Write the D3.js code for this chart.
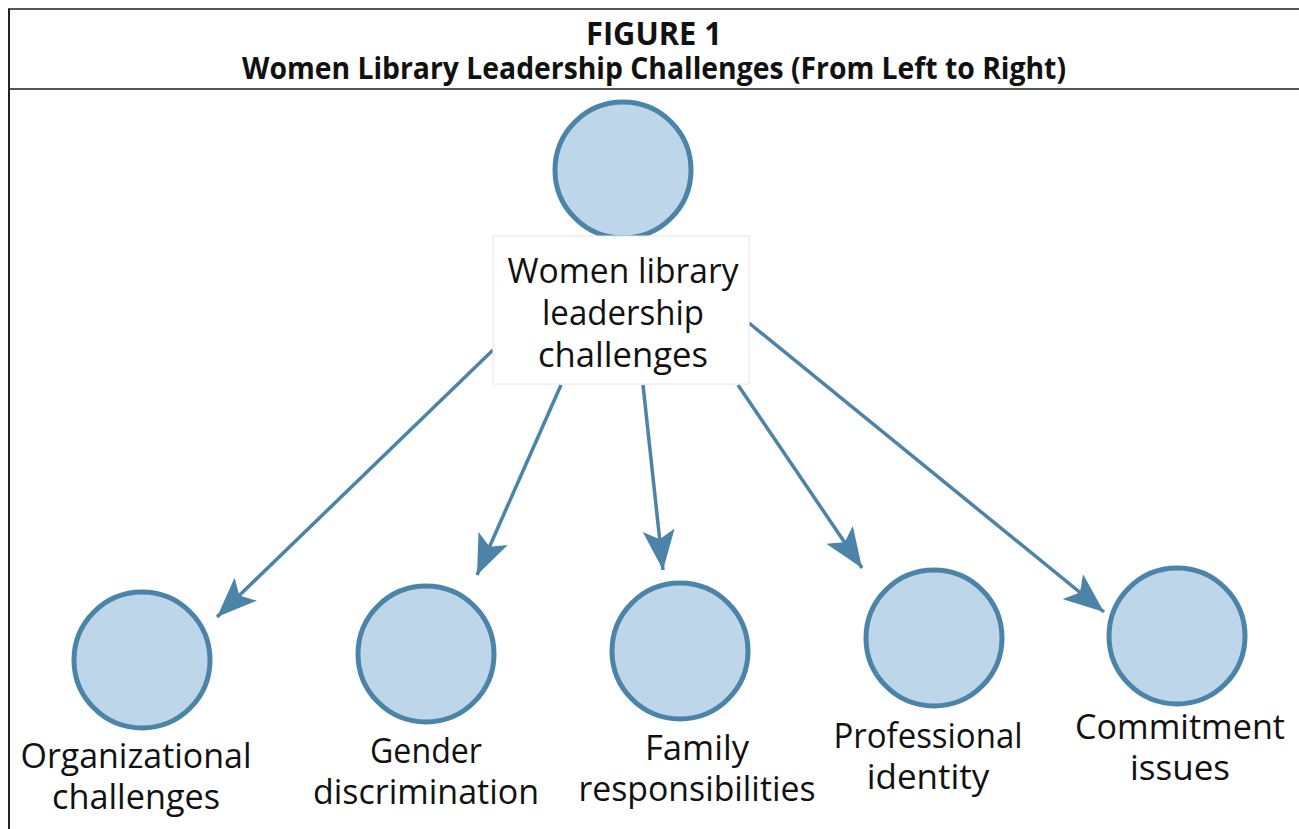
<!DOCTYPE html>
<head>
    <meta charset="utf-8">
    <style>
        body { margin: 0; background: #fff; }
        text { font-family: "Open Sans", "Noto Sans", sans-serif; fill: #111; }
        .title { font-weight: 700; }
    </style>
</head>
<body>
    <svg id="chart" width="1299" height="829"></svg>
    <script src="https://cdn.jsdelivr.net/npm/d3@7"></script>
    <script>
        // figure text
        var figureNo = "FIGURE 1"
        var figureTitle = "Women Library Leadership Challenges (From Left to Right)"
        var rootLabel = ["Women library", "leadership", "challenges"]
        var challenges = [
            ["Organizational", "challenges"],
            ["Gender", "discrimination"],
            ["Family", "responsibilities"],
            ["Professional", "identity"],
            ["Commitment", "issues"]
        ]

        // layout (kept apart from the data)
        var rootPos = { cx: 623, cy: 170, box: [493, 236, 256, 148] }
        var childPos = [
            { cx: 142, cy: 660, lx: 136, ly: 768, from: [493, 350], to: [217, 617] },
            { cx: 426, cy: 654, lx: 426, ly: 763, from: [561, 385], to: [477, 575] },
            { cx: 680, cy: 651, lx: 697, ly: 760, from: [643, 385], to: [663, 570] },
            { cx: 934, cy: 638, lx: 928, ly: 748, from: [738, 385], to: [862, 568] },
            { cx: 1177, cy: 636, lx: 1180, ly: 739, from: [749, 323], to: [1104, 612] }
        ]
        var R = 68, blue = "#4b84a8", fill = "#bed6ea"

        var svg = d3.select("#chart")

        // frame lines
        svg.append("line").attr("x1", 8).attr("x2", 1299).attr("y1", 9).attr("y2", 9)
            .attr("stroke", "#555").attr("stroke-width", 2)
        svg.append("line").attr("x1", 8).attr("x2", 1299).attr("y1", 89).attr("y2", 89)
            .attr("stroke", "#555").attr("stroke-width", 2)
        svg.append("line").attr("x1", 9).attr("x2", 9).attr("y1", 9).attr("y2", 829)
            .attr("stroke", "#222").attr("stroke-width", 2)

        function fit(sel, w) {
            // squeeze text to the width it has in the figure
            var len = sel.node().getComputedTextLength()
            if (len > w) sel.attr("textLength", w).attr("lengthAdjust", "spacingAndGlyphs")
        }

        fit(svg.append("text").attr("class", "title").attr("x", 654).attr("y", 45)
            .attr("text-anchor", "middle").style("font-size", "32px").text(figureNo), 136)
        fit(svg.append("text").attr("class", "title").attr("x", 654).attr("y", 79)
            .attr("text-anchor", "middle").style("font-size", "30px").text(figureTitle), 824)

        // arrowhead
        var head = svg.append("defs").append("marker")
            .attr("id", "head").attr("viewBox", "-40 -17 42 34")
            .attr("markerUnits", "userSpaceOnUse")
            .attr("markerWidth", 42).attr("markerHeight", 34)
            .attr("refX", 0).attr("refY", 0).attr("orient", "auto")
        head.append("path").attr("d", "M0,0 L-40,-16 L-31,0 L-40,16 Z").attr("fill", blue)

        svg.selectAll(".link").data(childPos).join("line")
            .attr("class", "link")
            .attr("x1", d => d.from[0]).attr("y1", d => d.from[1])
            .attr("x2", d => d.to[0]).attr("y2", d => d.to[1])
            .attr("stroke", blue).attr("stroke-width", 3.5)
            .attr("marker-end", "url(#head)")

        // root node
        svg.append("circle").attr("cx", rootPos.cx).attr("cy", rootPos.cy).attr("r", R)
            .attr("fill", fill).attr("stroke", blue).attr("stroke-width", 5)
        svg.append("rect").attr("x", rootPos.box[0]).attr("y", rootPos.box[1])
            .attr("width", rootPos.box[2]).attr("height", rootPos.box[3])
            .attr("fill", "#fff").attr("stroke", "#e6e6e6")
        svg.append("g").selectAll("text").data(rootLabel).join("text")
            .attr("x", rootPos.cx).attr("y", (d, i) => 283 + i * 42)
            .attr("text-anchor", "middle").style("font-size", "35px").text(d => d)
            .each(function (d, i) { fit(d3.select(this), [231, 162, 170][i]) })

        // child nodes
        var nodes = svg.selectAll(".node").data(challenges).join("g").attr("class", "node")
        nodes.append("circle")
            .attr("cx", (d, i) => childPos[i].cx).attr("cy", (d, i) => childPos[i].cy).attr("r", R)
            .attr("fill", fill).attr("stroke", blue).attr("stroke-width", 5)
        var widths = [[231, 168], [112, 226], [104, 237], [189, 123], [210, 108]]
        nodes.each(function (d, i) {
            d3.select(this).selectAll("text").data(d).join("text")
                .attr("x", childPos[i].lx).attr("y", (t, j) => childPos[i].ly + j * 41)
                .attr("text-anchor", "middle").style("font-size", "35px").text(t => t)
                .each(function (t, j) { fit(d3.select(this), widths[i][j]) })
        })
    </script>
</body>
